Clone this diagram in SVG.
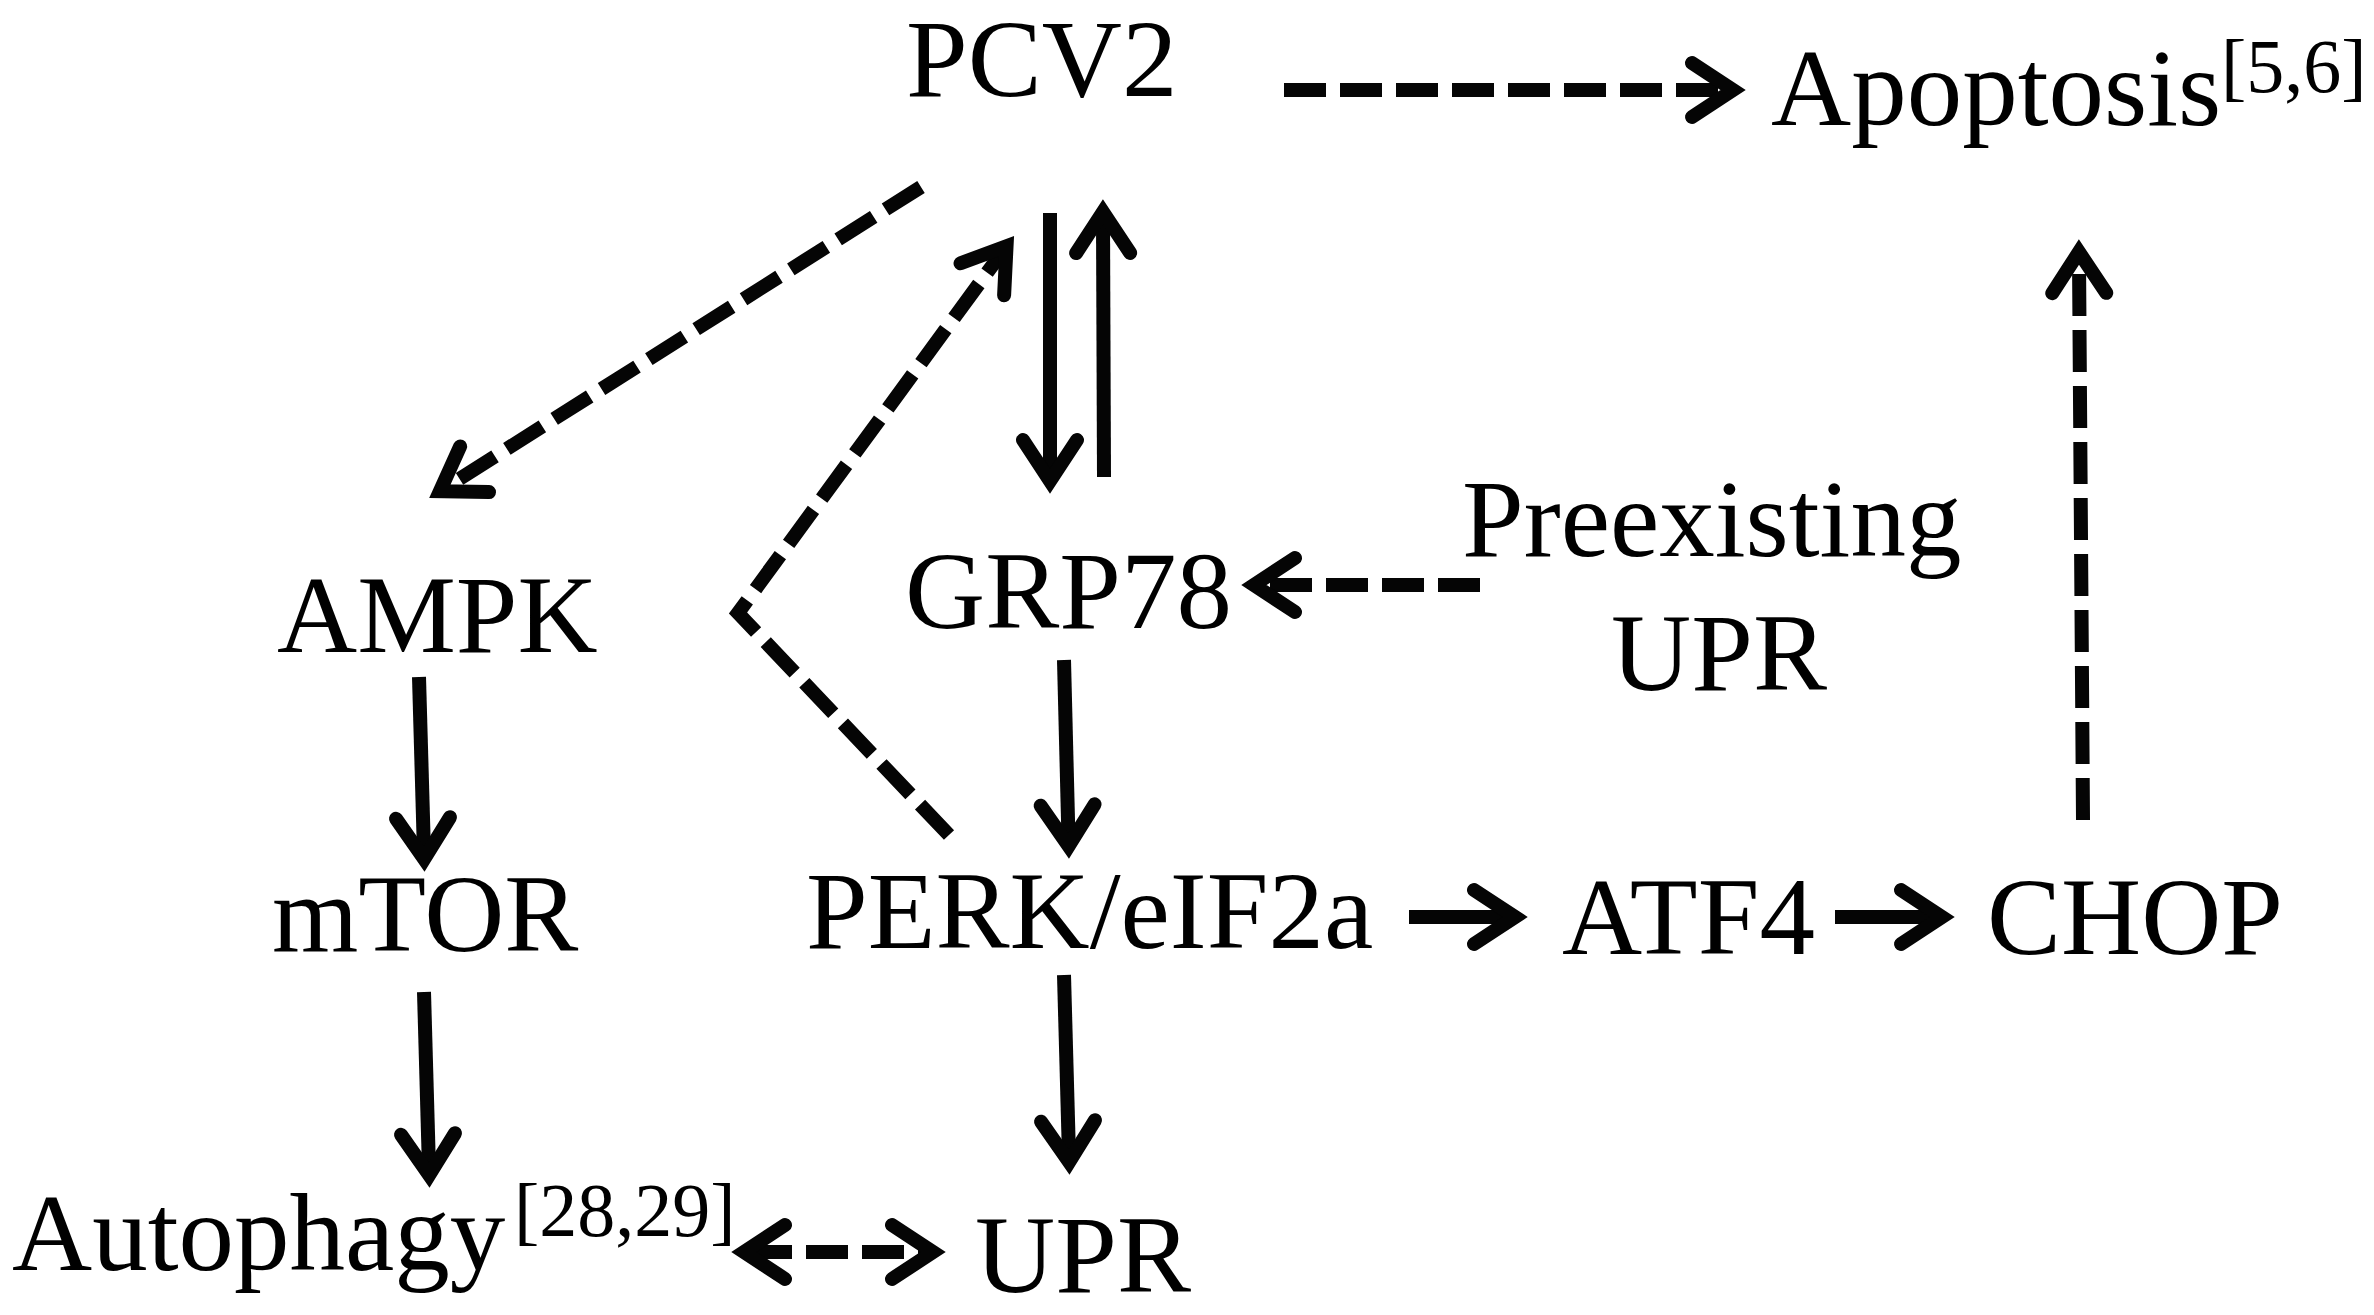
<svg xmlns="http://www.w3.org/2000/svg" width="2374" height="1315" viewBox="0 0 2374 1315">
<style>
text { font-family: "Liberation Serif", "Times New Roman", serif; fill: #000; }
.lbl { font-size: 111px; }
.sup { font-size: 76px; }
.solid { fill: none; stroke: #050505; stroke-width: 14; }
.dash { fill: none; stroke: #050505; stroke-width: 14; stroke-dasharray: 42 14; }
</style>
<defs>
<marker id="ah" markerUnits="userSpaceOnUse" viewBox="-50 -40 80 80" markerWidth="80" markerHeight="80" refX="0" refY="0" orient="auto-start-reverse" overflow="visible">
<path d="M -35 -27 L 6 0 L -35 27" fill="none" stroke="#050505" stroke-width="14" stroke-linecap="round" stroke-linejoin="miter" stroke-miterlimit="10"/>
</marker>
</defs>
<rect width="2374" height="1315" fill="#fff"/>
<g id="connectors">
<path class="dash" d="M 1284 90 L 1727 90" marker-end="url(#ah)"/>
<path class="dash" d="M 921 187 L 445 488" marker-end="url(#ah)"/>
<path class="dash" d="M 949 835 L 738 613 L 1003 251" marker-end="url(#ah)"/>
<path class="solid" d="M 1050 213 L 1050 475" marker-end="url(#ah)"/>
<path class="solid" d="M 1104 477 L 1103 218" marker-end="url(#ah)"/>
<path class="dash" d="M 1480 585 L 1260 585" marker-end="url(#ah)"/>
<path class="solid" d="M 1064 660 L 1068.5 840" marker-end="url(#ah)"/>
<path class="solid" d="M 419 677 L 424 853" marker-end="url(#ah)"/>
<path class="solid" d="M 424 992 L 429 1169" marker-end="url(#ah)"/>
<path class="solid" d="M 1064 975 L 1069 1156" marker-end="url(#ah)"/>
<path class="solid" d="M 1409 917 L 1509 917" marker-end="url(#ah)"/>
<path class="solid" d="M 1835 917 L 1936 917" marker-end="url(#ah)"/>
<path class="dash" d="M 2083 820 L 2079 258" marker-end="url(#ah)"/>
<path class="dash" d="M 750 1252 L 927 1252" marker-start="url(#ah)" marker-end="url(#ah)"/>
</g>
<g id="node-pcv2"><text class="lbl" x="906" y="96">PCV2</text></g>
<g id="node-apoptosis"><text class="lbl" x="1771" y="125">Apoptosis</text><text class="sup" x="2221" y="92">[5,6]</text></g>
<g id="node-ampk"><text class="lbl" x="277" y="652">AMPK</text></g>
<g id="node-grp78"><text class="lbl" x="905" y="628">GRP78</text></g>
<g id="node-preexisting-upr"><text class="lbl" x="1462" y="556">Preexisting</text><text class="lbl" x="1611" y="690">UPR</text></g>
<g id="node-mtor"><text class="lbl" x="272" y="951">mTOR</text></g>
<g id="node-perk"><text class="lbl" x="806" y="948">PERK/eIF2a</text></g>
<g id="node-atf4"><text class="lbl" x="1562" y="954">ATF4</text></g>
<g id="node-chop"><text class="lbl" x="1987" y="954">CHOP</text></g>
<g id="node-autophagy"><text class="lbl" x="12" y="1270">Autophagy</text><text class="sup" x="514" y="1236">[28,29]</text></g>
<g id="node-upr"><text class="lbl" x="975" y="1292">UPR</text></g>
</svg>
